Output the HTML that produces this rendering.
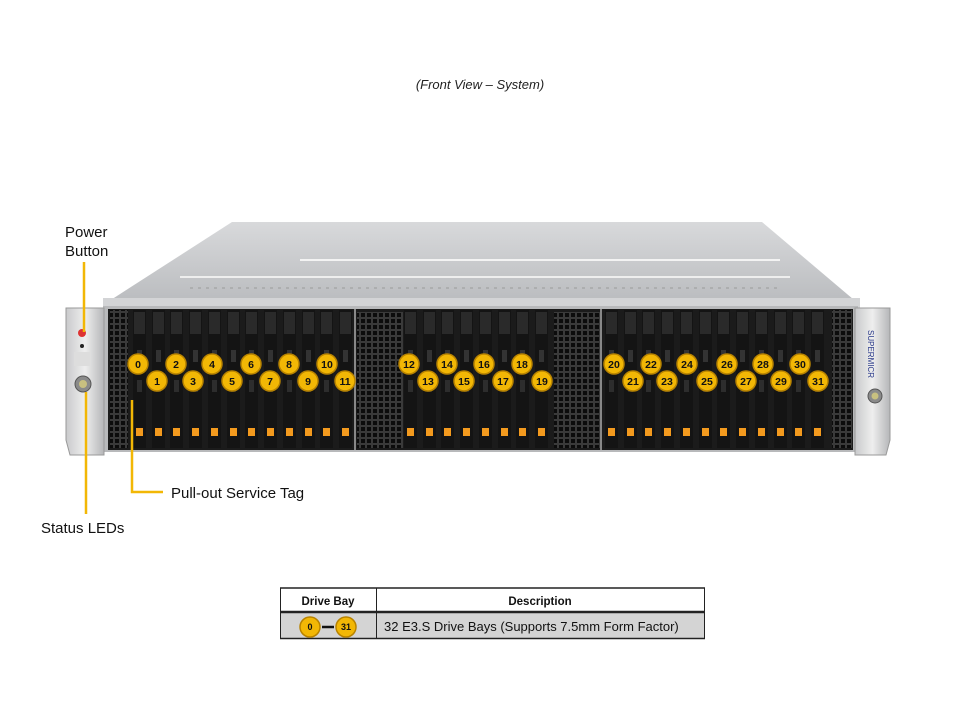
<!DOCTYPE html>
<html><head><meta charset="utf-8"><style>
body{margin:0;background:#fff;width:960px;height:720px;overflow:hidden;font-family:"Liberation Sans",sans-serif}
</style></head><body>
<svg width="960" height="720" viewBox="0 0 960 720" xmlns="http://www.w3.org/2000/svg" font-family="Liberation Sans, sans-serif">
<defs>
<linearGradient id="top" x1="0" y1="0" x2="0" y2="1"><stop offset="0" stop-color="#d8d9db"/><stop offset="1" stop-color="#b9bbbe"/></linearGradient>
<linearGradient id="ear" x1="0" y1="0" x2="1" y2="0"><stop offset="0" stop-color="#c9cacc"/><stop offset=".5" stop-color="#eeeeee"/><stop offset="1" stop-color="#b5b6b8"/></linearGradient>
<pattern id="mesh" width="6" height="6" patternUnits="userSpaceOnUse"><rect width="6" height="6" fill="#3a3a3a"/><rect x="1" y="1" width="4" height="4" fill="#0c0c0c"/></pattern>
<g id="drv"><rect x="0" y="0" width="13" height="138" fill="#141414"/><rect x="1" y="2" width="11" height="22" fill="#2a2a2a"/><rect x="4" y="40" width="5" height="12" fill="#333"/><rect x="4" y="70" width="5" height="12" fill="#2d2d2d"/><rect x="3" y="118" width="7" height="8" fill="#f39a1e"/></g>
<g id="b"><circle r="10" fill="#f2b705" stroke="#b88300" stroke-width="1.5"/></g>
</defs>
<text x="480" y="89" font-size="13" font-style="italic" text-anchor="middle" fill="#222">(Front View – System)</text>
<polygon points="103,305 232,222 762,222 860,305" fill="url(#top)"/>
<line x1="300" y1="260" x2="780" y2="260" stroke="#f3f3f3" stroke-width="2"/>
<line x1="180" y1="277" x2="790" y2="277" stroke="#eeeeee" stroke-width="2"/>
<line x1="190" y1="288" x2="780" y2="288" stroke="#9a9a9a" stroke-width="1" stroke-dasharray="3,5"/>
<rect x="103" y="298" width="757" height="10" fill="#d3d4d6"/>
<rect x="103" y="306" width="755" height="146" fill="#b8b9bb"/>
<rect x="108" y="309" width="745" height="141" fill="#1b1b1b"/>
<rect x="110" y="310" width="18" height="138" fill="url(#mesh)"/>
<rect x="357" y="312" width="46" height="136" fill="url(#mesh)"/>
<rect x="554" y="312" width="46" height="136" fill="url(#mesh)"/>
<rect x="832" y="310" width="20" height="138" fill="url(#mesh)"/>
<line x1="355" y1="309" x2="355" y2="450" stroke="#888" stroke-width="2"/>
<line x1="601" y1="309" x2="601" y2="450" stroke="#888" stroke-width="2"/>
<use href="#drv" x="133" y="310"/><use href="#drv" x="152" y="310"/><use href="#drv" x="170" y="310"/><use href="#drv" x="189" y="310"/><use href="#drv" x="208" y="310"/><use href="#drv" x="227" y="310"/><use href="#drv" x="245" y="310"/><use href="#drv" x="264" y="310"/><use href="#drv" x="283" y="310"/><use href="#drv" x="302" y="310"/><use href="#drv" x="320" y="310"/><use href="#drv" x="339" y="310"/>
<use href="#drv" x="404" y="310"/><use href="#drv" x="423" y="310"/><use href="#drv" x="441" y="310"/><use href="#drv" x="460" y="310"/><use href="#drv" x="479" y="310"/><use href="#drv" x="498" y="310"/><use href="#drv" x="516" y="310"/><use href="#drv" x="535" y="310"/>
<use href="#drv" x="605" y="310"/><use href="#drv" x="624" y="310"/><use href="#drv" x="642" y="310"/><use href="#drv" x="661" y="310"/><use href="#drv" x="680" y="310"/><use href="#drv" x="699" y="310"/><use href="#drv" x="717" y="310"/><use href="#drv" x="736" y="310"/><use href="#drv" x="755" y="310"/><use href="#drv" x="774" y="310"/><use href="#drv" x="792" y="310"/><use href="#drv" x="811" y="310"/>
<path d="M66,308 H104 V455 H70 L66,440 Z" fill="url(#ear)" stroke="#999"/>
<circle cx="82" cy="333" r="4" fill="#d33"/>
<circle cx="82" cy="346" r="2" fill="#222"/>
<rect x="74" y="352" width="16" height="14" fill="#ddd"/>
<circle cx="83" cy="384" r="8" fill="#8a8a8a" stroke="#555"/>
<circle cx="83" cy="384" r="4" fill="#c8c080"/>
<path d="M855,308 H890 V440 L886,455 H855 Z" fill="url(#ear)" stroke="#999"/>
<text transform="translate(868,330) rotate(90)" font-size="8" fill="#2a3a8a">SUPERMICR</text>
<circle cx="875" cy="396" r="7" fill="#8a8a8a" stroke="#555"/>
<circle cx="875" cy="396" r="3.5" fill="#c8c080"/>
<g stroke="#f2b705" stroke-width="2.5" fill="none">
<line x1="84" y1="262" x2="84" y2="332"/>
<line x1="86" y1="392" x2="86" y2="514"/>
<polyline points="132,400 132,492 163,492"/>
</g>
<g font-size="15" fill="#111">
<text x="65" y="237">Power</text><text x="65" y="256">Button</text>
<text x="41" y="533">Status LEDs</text>
<text x="171" y="498">Pull-out Service Tag</text>
</g>
<g font-size="10.5" font-weight="bold" text-anchor="middle" fill="#111">
<use href="#b" x="138" y="364"/><text x="138" y="368">0</text>
<use href="#b" x="157" y="381"/><text x="157" y="385">1</text>
<use href="#b" x="176" y="364"/><text x="176" y="368">2</text>
<use href="#b" x="193" y="381"/><text x="193" y="385">3</text>
<use href="#b" x="212" y="364"/><text x="212" y="368">4</text>
<use href="#b" x="232" y="381"/><text x="232" y="385">5</text>
<use href="#b" x="251" y="364"/><text x="251" y="368">6</text>
<use href="#b" x="270" y="381"/><text x="270" y="385">7</text>
<use href="#b" x="289" y="364"/><text x="289" y="368">8</text>
<use href="#b" x="308" y="381"/><text x="308" y="385">9</text>
<use href="#b" x="327" y="364"/><text x="327" y="368">10</text>
<use href="#b" x="345" y="381"/><text x="345" y="385">11</text>
<use href="#b" x="409" y="364"/><text x="409" y="368">12</text>
<use href="#b" x="428" y="381"/><text x="428" y="385">13</text>
<use href="#b" x="447" y="364"/><text x="447" y="368">14</text>
<use href="#b" x="464" y="381"/><text x="464" y="385">15</text>
<use href="#b" x="484" y="364"/><text x="484" y="368">16</text>
<use href="#b" x="503" y="381"/><text x="503" y="385">17</text>
<use href="#b" x="522" y="364"/><text x="522" y="368">18</text>
<use href="#b" x="542" y="381"/><text x="542" y="385">19</text>
<use href="#b" x="614" y="364"/><text x="614" y="368">20</text>
<use href="#b" x="633" y="381"/><text x="633" y="385">21</text>
<use href="#b" x="651" y="364"/><text x="651" y="368">22</text>
<use href="#b" x="667" y="381"/><text x="667" y="385">23</text>
<use href="#b" x="687" y="364"/><text x="687" y="368">24</text>
<use href="#b" x="707" y="381"/><text x="707" y="385">25</text>
<use href="#b" x="727" y="364"/><text x="727" y="368">26</text>
<use href="#b" x="746" y="381"/><text x="746" y="385">27</text>
<use href="#b" x="763" y="364"/><text x="763" y="368">28</text>
<use href="#b" x="781" y="381"/><text x="781" y="385">29</text>
<use href="#b" x="800" y="364"/><text x="800" y="368">30</text>
<use href="#b" x="818" y="381"/><text x="818" y="385">31</text>
</g>
<rect x="280" y="613" width="425" height="25" fill="#d4d4d4"/>
<g stroke="#222" fill="none">
<line x1="280" y1="588" x2="705" y2="588" stroke-width="1.5"/>
<line x1="280" y1="612" x2="705" y2="612" stroke-width="2.5"/>
<line x1="280" y1="638.5" x2="705" y2="638.5" stroke-width="1.5"/>
<line x1="280.5" y1="588" x2="280.5" y2="639" stroke-width="1"/>
<line x1="376.5" y1="588" x2="376.5" y2="639" stroke-width="1"/>
<line x1="704.5" y1="588" x2="704.5" y2="639" stroke-width="1"/>
</g>
<g font-size="11.5" font-weight="bold" text-anchor="middle" fill="#111">
<text x="328" y="605">Drive Bay</text><text x="540" y="605">Description</text>
</g>
<use href="#b" x="310" y="627"/><use href="#b" x="346" y="627"/>
<g font-size="9" font-weight="bold" text-anchor="middle" fill="#111">
<text x="310" y="630">0</text><text x="346" y="630">31</text>
</g>
<line x1="322" y1="627" x2="334" y2="627" stroke="#111" stroke-width="2.5"/>
<text x="384" y="631" font-size="13" fill="#111">32 E3.S Drive Bays (Supports 7.5mm Form Factor)</text>
</svg>
</body></html>
